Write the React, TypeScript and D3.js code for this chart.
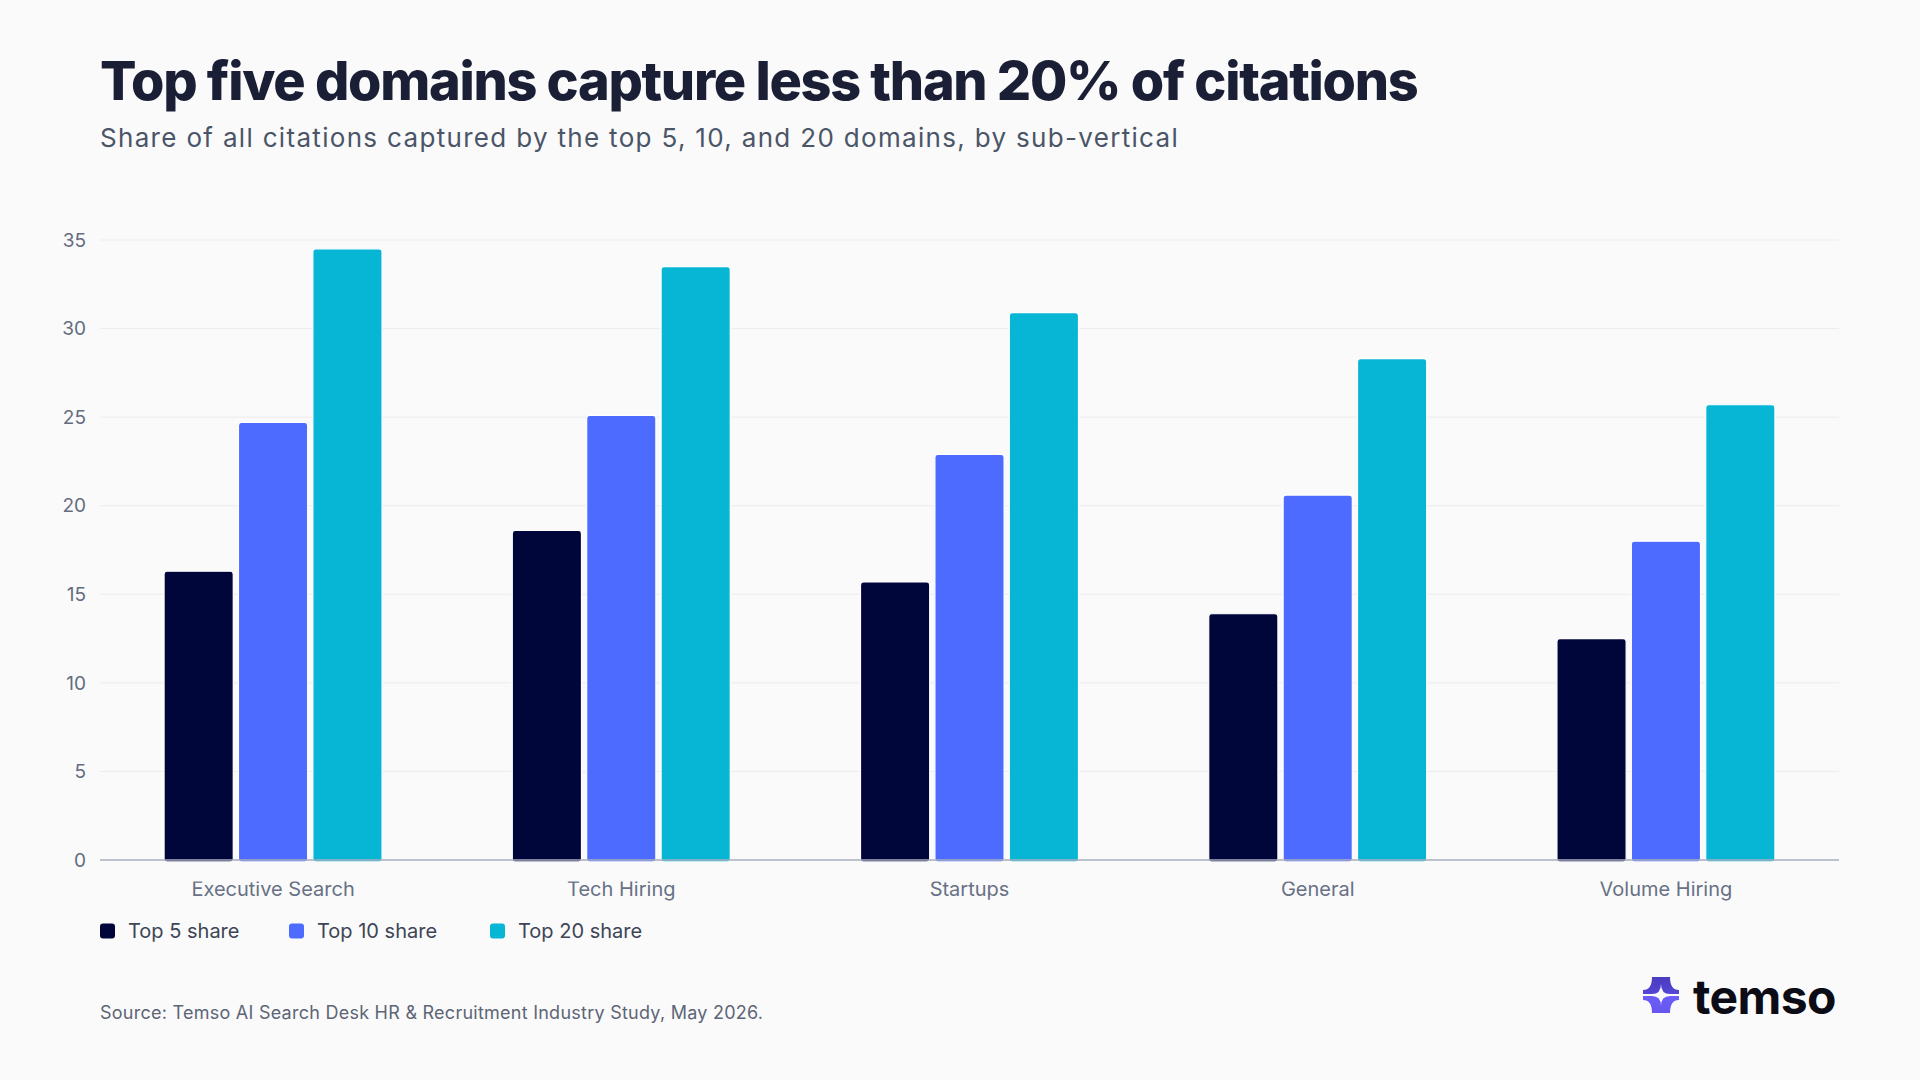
import React from "react";
import * as d3 from "d3";

const categories = ["Executive Search", "Tech Hiring", "Startups", "General", "Volume Hiring"];
const seriesNames = ["Top 5 share", "Top 10 share", "Top 20 share"];
const top5 = [16.3, 18.6, 15.7, 13.9, 12.5];
const top10 = [24.7, 25.1, 22.9, 20.6, 18.0];
const top20 = [34.5, 33.5, 30.9, 28.3, 25.7];
const yTicks = [0, 5, 10, 15, 20, 25, 30, 35];
const colors = ["#00053A", "#4D6BFE", "#06B6D4"];

const W = 1920;
const H = 1080;
const left = 100;
const right = 1839;
const top = 240;
const bottom = 860;

export default function App() {
  const seriesValues = [top5, top10, top20];
  const x0 = d3.scaleBand<string>().domain(categories).range([left, right]).paddingInner(0.374).paddingOuter(0.184);
  const x1 = d3.scaleBand<string>().domain(seriesNames).range([0, x0.bandwidth()]).paddingInner(0.07);
  const y = d3.scaleLinear().domain([0, 35]).range([bottom, top]);
  const font = "Inter, 'Noto Sans', sans-serif";

  const legendX = [100, 289, 490];

  return (
    <div style={{ position: "fixed", left: 0, top: 0, width: W, height: H }}>
      <svg width={W} height={H} viewBox={`0 0 ${W} ${H}`} style={{ display: "block", fontFamily: font }}>
        <defs>
          <linearGradient id="logoTop" x1="0" y1="0" x2="0" y2="1">
            <stop offset="0" stopColor="#4a3cbf" />
            <stop offset="1" stopColor="#5545d6" />
          </linearGradient>
          <linearGradient id="logoBot" x1="0" y1="0" x2="0" y2="1">
            <stop offset="0" stopColor="#6c5ef8" />
            <stop offset="1" stopColor="#6456ee" />
          </linearGradient>
        </defs>
        <rect x={0} y={0} width={W} height={H} fill="#fafafa" />

        <text x={100} y={100} fontSize={54} fontWeight={800} fill="#1a1f36" letterSpacing={-1.3}>
          Top five domains capture less than 20% of citations
        </text>
        <text x={100} y={147} fontSize={26} fontWeight={400} fill="#4a5568" letterSpacing={1.32}>
          Share of all citations captured by the top 5, 10, and 20 domains, by sub-vertical
        </text>

        {yTicks.map((t) => (
          <g key={t}>
            {t > 0 && <line x1={left} x2={right} y1={y(t)} y2={y(t)} stroke="#ececec" strokeWidth={1} />}
            <text x={86} y={y(t)} dy="0.35em" textAnchor="end" fontSize={19} fill="#646c7e">
              {t}
            </text>
          </g>
        ))}

        {categories.map((c, ci) => (
          <g key={c} transform={`translate(${x0(c)},0)`}>
            {seriesNames.map((s, si) => {
              const v = seriesValues[si][ci];
              return (
                <rect
                  key={s}
                  x={x1(s)}
                  y={y(v)}
                  width={x1.bandwidth()}
                  height={bottom - y(v) + 2}
                  rx={3}
                  fill={colors[si]}
                  stroke="#ffffff"
                  strokeWidth={1.2}
                />
              );
            })}
            <text x={x0.bandwidth() / 2} y={896} textAnchor="middle" fontSize={20} fill="#687185">
              {c}
            </text>
          </g>
        ))}
        <rect x={left} y={bottom + 1.5} width={right - left} height={20} fill="#fafafa" />
        <line x1={left} x2={right} y1={bottom} y2={bottom} stroke="#a9aebf" strokeWidth={1.6} />

        {seriesNames.map((s, i) => (
          <g key={s} transform={`translate(${legendX[i]},931)`}>
            <rect x={0} y={-7.5} width={15} height={15} rx={3} fill={colors[i]} />
            <text x={28} y={0} dy="0.35em" fontSize={20} fill="#3d4556">
              {s}
            </text>
          </g>
        ))}

        <text x={100} y={1019} fontSize={18} fill="#5d6577" letterSpacing={0.25}>
          Source: Temso AI Search Desk HR &amp; Recruitment Industry Study, May 2026.
        </text>

        <g transform="translate(1643,977)">
          <path d="M0,17 L0,13 Q9,13 9,0 L27,0 Q27,13 36,13 L36,17 L27,17 Q18,17 18,7 Q18,17 9,17 Z" fill="url(#logoTop)" />
          <path d="M0,19 L0,23 Q9,23 9,36 L27,36 Q27,23 36,23 L36,19 L27,19 Q18,19 18,29 Q18,19 9,19 Z" fill="url(#logoBot)" />
        </g>
        <text x={1693} y={1014} fontSize={48} fontWeight={700} fill="#0c0c16" letterSpacing={-0.6}>
          temso
        </text>
      </svg>
    </div>
  );
}
